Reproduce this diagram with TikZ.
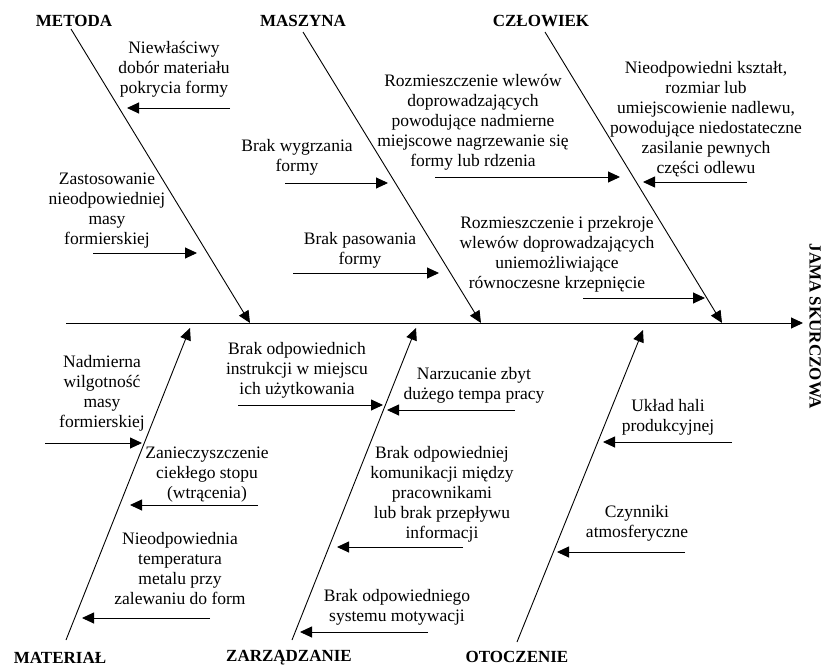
\documentclass[tikz,border=0pt]{standalone}
\usepackage{fontspec}
\setmainfont{Liberation Serif}
\usetikzlibrary{arrows.meta}
\begin{document}
\begin{tikzpicture}[x=1pt,y=-1pt,
  arr/.style={line width=0.9pt,-{Triangle[length=12pt,width=11pt]}},
  txt/.style={align=center,inner sep=0pt,font=\fontsize{17.5}{20}\selectfont},
  head/.style={inner sep=0pt,font=\fontsize{17}{20}\selectfont\bfseries}]
\useasboundingbox (0,0) rectangle (828,669);
% spine
\coordinate (sp0) at (66,323);
\coordinate (sp1) at (803,323);
\draw[arr] (sp0) -- (sp1);
\node[head,rotate=-90] (effect) at (815,326) {JAMA SKURCZOWA};
% bone labels
\node[head] (metoda) at (74,21) {METODA};
\node[head] (maszyna) at (303,21) {MASZYNA};
\node[head] (czlowiek) at (541,21) {CZŁOWIEK};
\node[head] (material) at (60,658) {MATERIAŁ};
\node[head] (zarzadzanie) at (289,658) {ZARZĄDZANIE};
\node[head] (otoczenie) at (517,657) {OTOCZENIE};
% bones
\coordinate (b1s) at (71,29);  \coordinate (b1e) at (250,323);
\coordinate (b2s) at (303,32); \coordinate (b2e) at (481,323);
\coordinate (b3s) at (545,32); \coordinate (b3e) at (722,323);
\coordinate (b4s) at (66,640); \coordinate (b4e) at (190,328);
\coordinate (b5s) at (292,640); \coordinate (b5e) at (416,328);
\coordinate (b6s) at (517,642); \coordinate (b6e) at (643,330);
\foreach \i in {1,...,6} {\draw[arr] (b\i s) -- (b\i e);}
% causes
\node[txt] (t1) at (174,69) {Niewłaściwy\\dobór materiału\\pokrycia formy};
\coordinate (a1s) at (230,108); \coordinate (a1e) at (127,108);
\node[txt] (t2) at (107,211) {Zastosowanie\\nieodpowiedniej\\masy\\formierskiej};
\coordinate (a2s) at (93,253); \coordinate (a2e) at (197,253);
\node[txt] (t3) at (297,157) {Brak wygrzania\\formy};
\coordinate (a3s) at (285,183); \coordinate (a3e) at (388,183);
\node[txt] (t4) at (360,250) {Brak pasowania\\formy};
\coordinate (a4s) at (293,273); \coordinate (a4e) at (439,273);
\node[txt] (t5) at (473,122) {Rozmieszczenie wlewów\\doprowadzających\\powodujące nadmierne\\miejscowe nagrzewanie się\\formy lub rdzenia};
\coordinate (a5s) at (435,177); \coordinate (a5e) at (620,177);
\node[txt] (t6) at (706,119) {Nieodpowiedni kształt,\\rozmiar lub\\umiejscowienie nadlewu,\\powodujące niedostateczne\\zasilanie pewnych\\części odlewu};
\coordinate (a6s) at (747,182); \coordinate (a6e) at (643,182);
\node[txt] (t7) at (557,254) {Rozmieszczenie i przekroje\\wlewów doprowadzających\\uniemożliwiające\\równoczesne krzepnięcie};
\coordinate (a7s) at (583,298); \coordinate (a7e) at (705,298);
\node[txt] (t8) at (102,393) {Nadmierna\\wilgotność\\masy\\formierskiej};
\coordinate (a8s) at (45,443); \coordinate (a8e) at (142,443);
\node[txt] (t9) at (207,475) {Zanieczyszczenie\\ciekłego stopu\\(wtrącenia)};
\coordinate (a9s) at (258,505); \coordinate (a9e) at (130,505);
\node[txt] (t10) at (180,569) {Nieodpowiednia\\temperatura\\metalu przy\\zalewaniu do form};
\coordinate (a10s) at (210,618); \coordinate (a10e) at (82,618);
\node[txt] (t11) at (297,370) {Brak odpowiednich\\instrukcji w miejscu\\ich użytkowania};
\coordinate (a11s) at (238,405); \coordinate (a11e) at (383,405);
\node[txt] (t12) at (474,385) {Narzucanie zbyt\\dużego tempa pracy};
\coordinate (a12s) at (515,410); \coordinate (a12e) at (387,410);
\node[txt] (t13) at (668,417) {Układ hali\\produkcyjnej};
\coordinate (a13s) at (732,442); \coordinate (a13e) at (603,442);
\node[txt] (t14) at (637,523) {Czynniki\\atmosferyczne};
\coordinate (a14s) at (685,552); \coordinate (a14e) at (557,552);
\node[txt] (t15) at (442,494) {Brak odpowiedniej\\komunikacji między\\pracownikami\\lub brak przepływu\\informacji};
\coordinate (a15s) at (463,547); \coordinate (a15e) at (337,547);
\node[txt] (t16) at (397,607) {Brak odpowiedniego\\systemu motywacji};
\coordinate (a16s) at (428,632); \coordinate (a16e) at (300,632);
\foreach \i in {1,...,16} {\draw[arr] (a\i s) -- (a\i e);}
\end{tikzpicture}
\end{document}
